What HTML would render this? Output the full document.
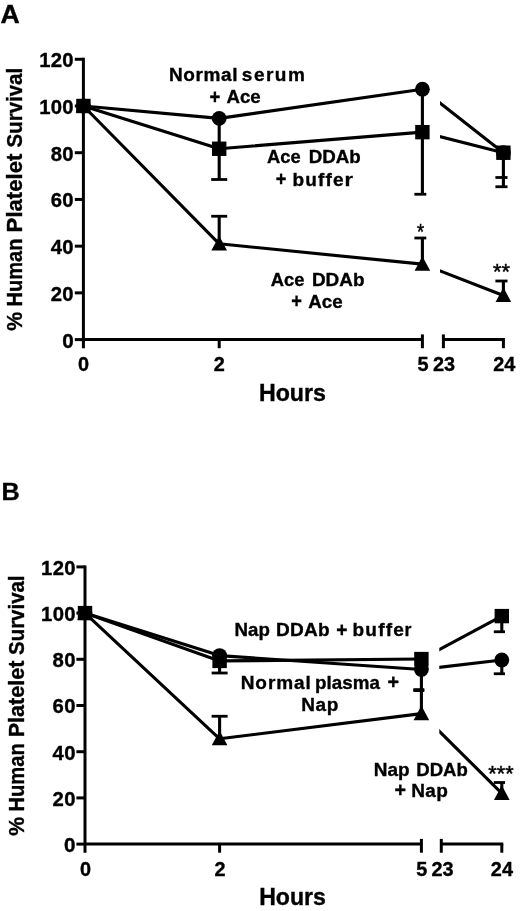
<!DOCTYPE html>
<html><head><meta charset="utf-8"><title>Platelet survival</title>
<style>html,body{margin:0;padding:0;background:#fff}svg{display:block;filter:grayscale(1)}text{fill:#000}</style></head>
<body><svg width="520" height="911" viewBox="0 0 520 911">
<rect width="520" height="911" fill="#fff"/>
<g stroke="#000" stroke-width="3" fill="none">
<path d="M83.4 57.78 V348.20000000000005"/>
<path d="M74.80000000000001 339.60 H83.4"/>
<path d="M74.80000000000001 292.88 H83.4"/>
<path d="M74.80000000000001 246.16 H83.4"/>
<path d="M74.80000000000001 199.44 H83.4"/>
<path d="M74.80000000000001 152.72 H83.4"/>
<path d="M74.80000000000001 106.00 H83.4"/>
<path d="M74.80000000000001 59.28 H83.4"/>
<path d="M83.4 339.6 H422.4"/>
<path d="M219.2 339.6 v8.6"/>
<path d="M422.4 334.40000000000003 v13.8"/>
<path d="M443.4 334.40000000000003 v13.8"/>
<path d="M443.4 339.6 H504.9"/>
<path d="M503.4 339.6 v8.6"/>
</g>
<text transform="translate(62.15 347.50) scale(1.0600 1)" font-size="19.5" stroke="#000" stroke-width="0.35" font-family="Liberation Sans, sans-serif" font-weight="bold">0</text>
<text transform="translate(50.70 300.78) scale(1.0400 1)" font-size="19.5" letter-spacing="0.388" stroke="#000" stroke-width="0.35" font-family="Liberation Sans, sans-serif" font-weight="bold">20</text>
<text transform="translate(50.69 254.06) scale(1.0400 1)" font-size="19.5" letter-spacing="0.396" stroke="#000" stroke-width="0.35" font-family="Liberation Sans, sans-serif" font-weight="bold">40</text>
<text transform="translate(50.70 207.34) scale(1.0400 1)" font-size="19.5" letter-spacing="0.387" stroke="#000" stroke-width="0.35" font-family="Liberation Sans, sans-serif" font-weight="bold">60</text>
<text transform="translate(50.70 160.62) scale(1.0400 1)" font-size="19.5" letter-spacing="0.389" stroke="#000" stroke-width="0.35" font-family="Liberation Sans, sans-serif" font-weight="bold">80</text>
<text transform="translate(39.18 113.90) scale(1.0400 1)" font-size="19.5" letter-spacing="0.293" stroke="#000" stroke-width="0.35" font-family="Liberation Sans, sans-serif" font-weight="bold">100</text>
<text transform="translate(39.18 67.18) scale(1.0400 1)" font-size="19.5" letter-spacing="0.293" stroke="#000" stroke-width="0.35" font-family="Liberation Sans, sans-serif" font-weight="bold">120</text>
<text transform="translate(77.88 370.70) scale(1.0200 1)" font-size="19.5" stroke="#000" stroke-width="0.35" font-family="Liberation Sans, sans-serif" font-weight="bold">0</text>
<text transform="translate(213.73 370.70) scale(1.0200 1)" font-size="19.5" stroke="#000" stroke-width="0.35" font-family="Liberation Sans, sans-serif" font-weight="bold">2</text>
<text transform="translate(417.56 370.70) scale(1.0200 1)" font-size="19.5" stroke="#000" stroke-width="0.35" font-family="Liberation Sans, sans-serif" font-weight="bold">5</text>
<text transform="translate(432.96 370.70) scale(1.0200 1)" font-size="19.5" stroke="#000" stroke-width="0.35" font-family="Liberation Sans, sans-serif" font-weight="bold">23</text>
<text transform="translate(493.26 370.70) scale(1.0200 1)" font-size="19.5" stroke="#000" stroke-width="0.35" font-family="Liberation Sans, sans-serif" font-weight="bold">24</text>
<clipPath id="cA"><rect x="440" y="0" width="200" height="911"/></clipPath>
<path d="M83.4 106.00 L219.2 118.38 L422.4 89.18" stroke="#000" stroke-width="3.1" fill="none" stroke-linejoin="round"/>
<path clip-path="url(#cA)" d="M422.4 89.18 L503.4 152.72" stroke="#000" stroke-width="3.1" fill="none"/>
<path d="M83.4 106.00 L219.2 148.75 L422.4 132.16" stroke="#000" stroke-width="3.1" fill="none" stroke-linejoin="round"/>
<path clip-path="url(#cA)" d="M422.4 132.16 L503.4 152.72" stroke="#000" stroke-width="3.1" fill="none"/>
<path d="M83.4 106.00 L219.2 243.82 L422.4 264.15" stroke="#000" stroke-width="3.1" fill="none" stroke-linejoin="round"/>
<path clip-path="url(#cA)" d="M422.4 264.15 L503.4 295.45" stroke="#000" stroke-width="3.1" fill="none"/>
<path d="M219.2 118 V179.5" stroke="#000" stroke-width="3.1" fill="none"/>
<path d="M211.2 179.5 H227.2" stroke="#000" stroke-width="2.8" fill="none"/>
<path d="M422.4 89 V194.25" stroke="#000" stroke-width="3.1" fill="none"/>
<path d="M414.4 194.25 H426.3" stroke="#000" stroke-width="2.8" fill="none"/>
<path d="M503.4 152 V186.75" stroke="#000" stroke-width="3.1" fill="none"/>
<path d="M495.4 177.5 H507.5" stroke="#000" stroke-width="2.8" fill="none"/>
<path d="M495.4 186.75 H507.5" stroke="#000" stroke-width="2.8" fill="none"/>
<path d="M219.2 216.25 V244" stroke="#000" stroke-width="3.1" fill="none"/>
<path d="M211.2 216.25 H227.2" stroke="#000" stroke-width="2.8" fill="none"/>
<path d="M422.4 238 V262" stroke="#000" stroke-width="3.1" fill="none"/>
<path d="M414.4 238 H426.3" stroke="#000" stroke-width="2.8" fill="none"/>
<path d="M503.4 281 V292" stroke="#000" stroke-width="3.1" fill="none"/>
<path d="M495.4 281 H507.5" stroke="#000" stroke-width="2.8" fill="none"/>
<circle cx="83.4" cy="106.00" r="7.4" fill="#000"/>
<circle cx="219.2" cy="118.38" r="7.4" fill="#000"/>
<circle cx="422.4" cy="89.18" r="7.4" fill="#000"/>
<circle cx="503.4" cy="152.72" r="7.4" fill="#000"/>
<rect x="76.20" y="98.80" width="14.4" height="14.4" fill="#000"/>
<rect x="212.00" y="141.55" width="14.4" height="14.4" fill="#000"/>
<rect x="415.20" y="124.96" width="14.4" height="14.4" fill="#000"/>
<rect x="496.20" y="145.52" width="14.4" height="14.4" fill="#000"/>
<path d="M83.4 98.00 L91.2 112.60 H75.60000000000001 Z" fill="#000"/>
<path d="M219.2 235.82 L227.0 250.42 H211.39999999999998 Z" fill="#000"/>
<path d="M422.4 256.15 L430.2 270.75 H414.59999999999997 Z" fill="#000"/>
<path d="M503.4 287.45 L511.2 302.05 H495.59999999999997 Z" fill="#000"/>
<text transform="translate(0.58 23.10) scale(1.0657 1)" font-size="25" stroke="#000" stroke-width="0.35" font-family="Liberation Sans, sans-serif" font-weight="bold">A</text>
<text transform="translate(168.92 80.50) scale(1.0400 1)" font-size="18.3" letter-spacing="0.606" stroke="#000" stroke-width="0.35" font-family="Liberation Sans, sans-serif" font-weight="bold">Normal</text>
<text transform="translate(241.83 80.50) scale(1.0400 1)" font-size="18.3" letter-spacing="1.421" stroke="#000" stroke-width="0.35" font-family="Liberation Sans, sans-serif" font-weight="bold">serum</text>
<text transform="translate(209.51 103.50) scale(0.9411 1)" font-size="19.764000000000003" stroke="#000" stroke-width="0.35" font-family="Liberation Sans, sans-serif" font-weight="bold">+</text>
<text transform="translate(226.43 103.30) scale(1.0190 1)" font-size="18.3" stroke="#000" stroke-width="0.35" font-family="Liberation Sans, sans-serif" font-weight="bold">Ace</text>
<text transform="translate(267.04 163.25) scale(1.0005 1)" font-size="18.3" stroke="#000" stroke-width="0.35" font-family="Liberation Sans, sans-serif" font-weight="bold">Ace</text>
<text transform="translate(308.74 163.25) scale(1.0233 1)" font-size="18.3" stroke="#000" stroke-width="0.35" font-family="Liberation Sans, sans-serif" font-weight="bold">DDAb</text>
<text transform="translate(275.73 185.70) scale(0.9209 1)" font-size="19.764000000000003" stroke="#000" stroke-width="0.35" font-family="Liberation Sans, sans-serif" font-weight="bold">+</text>
<text transform="translate(292.51 185.50) scale(1.0400 1)" font-size="18.3" letter-spacing="1.111" stroke="#000" stroke-width="0.35" font-family="Liberation Sans, sans-serif" font-weight="bold">buffe</text>
<text transform="translate(344.40 185.50) scale(1.1810 1)" font-size="18.3" stroke="#000" stroke-width="0.35" font-family="Liberation Sans, sans-serif" font-weight="bold">r</text>
<text transform="translate(270.79 285.75) scale(1.0005 1)" font-size="18.3" stroke="#000" stroke-width="0.35" font-family="Liberation Sans, sans-serif" font-weight="bold">Ace</text>
<text transform="translate(311.97 285.75) scale(1.0335 1)" font-size="18.3" stroke="#000" stroke-width="0.35" font-family="Liberation Sans, sans-serif" font-weight="bold">DDAb</text>
<text transform="translate(291.23 308.20) scale(0.9209 1)" font-size="19.764000000000003" stroke="#000" stroke-width="0.35" font-family="Liberation Sans, sans-serif" font-weight="bold">+</text>
<text transform="translate(308.28 308.00) scale(1.0236 1)" font-size="18.3" stroke="#000" stroke-width="0.35" font-family="Liberation Sans, sans-serif" font-weight="bold">Ace</text>
<text transform="translate(416.98 239.10) scale(0.8323 1)" font-size="22" stroke="#000" stroke-width="0.45" font-family="Liberation Sans, sans-serif" font-weight="normal">*</text>
<text transform="translate(493.12 278.90) scale(0.9884 1)" font-size="22" stroke="#000" stroke-width="0.45" font-family="Liberation Sans, sans-serif" font-weight="normal">**</text>
<text transform="translate(258.93 400.50) scale(1.0088 1)" font-size="23" stroke="#000" stroke-width="0.35" font-family="Liberation Sans, sans-serif" font-weight="bold">Hours</text>
<text transform="translate(21.90 330.20) rotate(-90) translate(-0.53 0) scale(0.9978 1)" font-size="21.3" stroke="#000" stroke-width="0.35" font-family="Liberation Sans, sans-serif" font-weight="bold">%</text>
<text transform="translate(21.90 330.20) rotate(-90) translate(23.64 0) scale(0.9433 1)" font-size="21.3" stroke="#000" stroke-width="0.35" font-family="Liberation Sans, sans-serif" font-weight="bold">Human</text>
<text transform="translate(21.90 330.20) rotate(-90) translate(97.80 0) scale(1.0400 1)" font-size="21.3" letter-spacing="0.009" stroke="#000" stroke-width="0.35" font-family="Liberation Sans, sans-serif" font-weight="bold">Platelet</text>
<text transform="translate(21.90 330.20) rotate(-90) translate(182.68 0) scale(0.9625 1)" font-size="21.3" stroke="#000" stroke-width="0.35" font-family="Liberation Sans, sans-serif" font-weight="bold">Survival</text>
<g stroke="#000" stroke-width="3" fill="none">
<path d="M85 565.40 V852.7"/>
<path d="M76.4 844.10 H85"/>
<path d="M76.4 797.90 H85"/>
<path d="M76.4 751.70 H85"/>
<path d="M76.4 705.50 H85"/>
<path d="M76.4 659.30 H85"/>
<path d="M76.4 613.10 H85"/>
<path d="M76.4 566.90 H85"/>
<path d="M85 844.1 H421.4"/>
<path d="M219.6 844.1 v8.6"/>
<path d="M421.4 838.9 v13.8"/>
<path d="M441.3 838.9 v13.8"/>
<path d="M441.3 844.1 H503.3"/>
<path d="M501.8 844.1 v8.6"/>
</g>
<text transform="translate(64.05 852.00) scale(1.0600 1)" font-size="19.5" stroke="#000" stroke-width="0.35" font-family="Liberation Sans, sans-serif" font-weight="bold">0</text>
<text transform="translate(52.60 805.80) scale(1.0400 1)" font-size="19.5" letter-spacing="0.388" stroke="#000" stroke-width="0.35" font-family="Liberation Sans, sans-serif" font-weight="bold">20</text>
<text transform="translate(52.59 759.60) scale(1.0400 1)" font-size="19.5" letter-spacing="0.396" stroke="#000" stroke-width="0.35" font-family="Liberation Sans, sans-serif" font-weight="bold">40</text>
<text transform="translate(52.60 713.40) scale(1.0400 1)" font-size="19.5" letter-spacing="0.387" stroke="#000" stroke-width="0.35" font-family="Liberation Sans, sans-serif" font-weight="bold">60</text>
<text transform="translate(52.60 667.20) scale(1.0400 1)" font-size="19.5" letter-spacing="0.389" stroke="#000" stroke-width="0.35" font-family="Liberation Sans, sans-serif" font-weight="bold">80</text>
<text transform="translate(41.08 621.00) scale(1.0400 1)" font-size="19.5" letter-spacing="0.293" stroke="#000" stroke-width="0.35" font-family="Liberation Sans, sans-serif" font-weight="bold">100</text>
<text transform="translate(41.08 574.80) scale(1.0400 1)" font-size="19.5" letter-spacing="0.293" stroke="#000" stroke-width="0.35" font-family="Liberation Sans, sans-serif" font-weight="bold">120</text>
<text transform="translate(79.88 875.50) scale(1.0200 1)" font-size="19.5" stroke="#000" stroke-width="0.35" font-family="Liberation Sans, sans-serif" font-weight="bold">0</text>
<text transform="translate(214.53 875.50) scale(1.0200 1)" font-size="19.5" stroke="#000" stroke-width="0.35" font-family="Liberation Sans, sans-serif" font-weight="bold">2</text>
<text transform="translate(416.26 875.50) scale(1.0200 1)" font-size="19.5" stroke="#000" stroke-width="0.35" font-family="Liberation Sans, sans-serif" font-weight="bold">5</text>
<text transform="translate(431.46 875.50) scale(1.0200 1)" font-size="19.5" stroke="#000" stroke-width="0.35" font-family="Liberation Sans, sans-serif" font-weight="bold">23</text>
<text transform="translate(490.86 875.50) scale(1.0200 1)" font-size="19.5" stroke="#000" stroke-width="0.35" font-family="Liberation Sans, sans-serif" font-weight="bold">24</text>
<clipPath id="cB"><rect x="439.3" y="0" width="200" height="911"/></clipPath>
<path d="M85 613.10 L219.6 655.60 L421.4 669.46" stroke="#000" stroke-width="3.1" fill="none" stroke-linejoin="round"/>
<path clip-path="url(#cB)" d="M421.4 669.46 L501.8 659.99" stroke="#000" stroke-width="3.1" fill="none"/>
<path d="M85 613.10 L219.6 660.92 L421.4 659.07" stroke="#000" stroke-width="3.1" fill="none" stroke-linejoin="round"/>
<path clip-path="url(#cB)" d="M421.4 659.07 L501.8 616.10" stroke="#000" stroke-width="3.1" fill="none"/>
<path d="M85 613.10 L219.6 738.76 L421.4 713.59" stroke="#000" stroke-width="3.1" fill="none" stroke-linejoin="round"/>
<path clip-path="url(#cB)" d="M421.4 713.59 L501.8 793.28" stroke="#000" stroke-width="3.1" fill="none"/>
<path d="M219.6 660 V673" stroke="#000" stroke-width="3.1" fill="none"/>
<path d="M211.6 673 H227.6" stroke="#000" stroke-width="2.8" fill="none"/>
<path d="M421.4 668 V712" stroke="#000" stroke-width="3.1" fill="none"/>
<path d="M413.4 689.6 H424.3" stroke="#000" stroke-width="2.8" fill="none"/>
<path d="M413.4 690.6 H424.3" stroke="#000" stroke-width="2.8" fill="none"/>
<path d="M501.8 616 V631.75" stroke="#000" stroke-width="3.1" fill="none"/>
<path d="M493.8 631.75 H505" stroke="#000" stroke-width="2.8" fill="none"/>
<path d="M501.8 660 V673.75" stroke="#000" stroke-width="3.1" fill="none"/>
<path d="M493.8 673.75 H505" stroke="#000" stroke-width="2.8" fill="none"/>
<path d="M219.6 716.25 V737" stroke="#000" stroke-width="3.1" fill="none"/>
<path d="M211.6 716.25 H227.6" stroke="#000" stroke-width="2.8" fill="none"/>
<path d="M501.8 782.5 V790" stroke="#000" stroke-width="3.1" fill="none"/>
<path d="M493.8 782.5 H505" stroke="#000" stroke-width="2.8" fill="none"/>
<circle cx="85" cy="613.10" r="7.4" fill="#000"/>
<circle cx="219.6" cy="655.60" r="7.4" fill="#000"/>
<circle cx="421.4" cy="669.46" r="7.4" fill="#000"/>
<circle cx="501.8" cy="659.99" r="7.4" fill="#000"/>
<rect x="77.80" y="605.90" width="14.4" height="14.4" fill="#000"/>
<rect x="212.40" y="653.72" width="14.4" height="14.4" fill="#000"/>
<rect x="414.20" y="651.87" width="14.4" height="14.4" fill="#000"/>
<rect x="494.60" y="608.90" width="14.4" height="14.4" fill="#000"/>
<path d="M85 605.10 L92.8 619.70 H77.2 Z" fill="#000"/>
<path d="M219.6 730.76 L227.4 745.36 H211.79999999999998 Z" fill="#000"/>
<path d="M421.4 705.59 L429.2 720.19 H413.59999999999997 Z" fill="#000"/>
<path d="M501.8 785.28 L509.6 799.88 H494.0 Z" fill="#000"/>
<text transform="translate(1.40 499.50) scale(1.0304 1)" font-size="24.5" stroke="#000" stroke-width="0.35" font-family="Liberation Sans, sans-serif" font-weight="bold">B</text>
<text transform="translate(234.54 636.30) scale(1.0223 1)" font-size="18.3" stroke="#000" stroke-width="0.35" font-family="Liberation Sans, sans-serif" font-weight="bold">Nap</text>
<text transform="translate(276.02 636.30) scale(1.0400 1)" font-size="18.3" letter-spacing="0.284" stroke="#000" stroke-width="0.35" font-family="Liberation Sans, sans-serif" font-weight="bold">DDAb</text>
<text transform="translate(336.18 636.50) scale(0.9715 1)" font-size="19.764000000000003" stroke="#000" stroke-width="0.35" font-family="Liberation Sans, sans-serif" font-weight="bold">+</text>
<text transform="translate(352.51 636.30) scale(1.0400 1)" font-size="18.3" letter-spacing="1.171" stroke="#000" stroke-width="0.35" font-family="Liberation Sans, sans-serif" font-weight="bold">buffe</text>
<text transform="translate(404.60 636.30) scale(0.9695 1)" font-size="18.3" stroke="#000" stroke-width="0.35" font-family="Liberation Sans, sans-serif" font-weight="bold">r</text>
<text transform="translate(240.72 688.70) scale(1.0400 1)" font-size="18.3" letter-spacing="0.875" stroke="#000" stroke-width="0.35" font-family="Liberation Sans, sans-serif" font-weight="bold">Normal</text>
<text transform="translate(315.03 688.70) scale(1.0284 1)" font-size="18.3" stroke="#000" stroke-width="0.35" font-family="Liberation Sans, sans-serif" font-weight="bold">plasma</text>
<text transform="translate(387.41 688.90) scale(0.9968 1)" font-size="19.764000000000003" stroke="#000" stroke-width="0.35" font-family="Liberation Sans, sans-serif" font-weight="bold">+</text>
<text transform="translate(301.22 711.30) scale(1.0400 1)" font-size="18.3" letter-spacing="0.540" stroke="#000" stroke-width="0.35" font-family="Liberation Sans, sans-serif" font-weight="bold">Nap</text>
<text transform="translate(373.72 775.50) scale(1.0361 1)" font-size="18.3" stroke="#000" stroke-width="0.35" font-family="Liberation Sans, sans-serif" font-weight="bold">Nap</text>
<text transform="translate(416.25 775.50) scale(1.0131 1)" font-size="18.3" stroke="#000" stroke-width="0.35" font-family="Liberation Sans, sans-serif" font-weight="bold">DDAb</text>
<text transform="translate(394.41 797.20) scale(0.9968 1)" font-size="19.764000000000003" stroke="#000" stroke-width="0.35" font-family="Liberation Sans, sans-serif" font-weight="bold">+</text>
<text transform="translate(411.22 797.00) scale(1.0400 1)" font-size="18.3" letter-spacing="0.300" stroke="#000" stroke-width="0.35" font-family="Liberation Sans, sans-serif" font-weight="bold">Nap</text>
<text transform="translate(488.37 781.10) scale(0.9833 1)" font-size="22" stroke="#000" stroke-width="0.45" font-family="Liberation Sans, sans-serif" font-weight="normal">***</text>
<text transform="translate(259.19 905.00) scale(1.0048 1)" font-size="23" stroke="#000" stroke-width="0.35" font-family="Liberation Sans, sans-serif" font-weight="bold">Hours</text>
<text transform="translate(24.10 835.20) rotate(-90) translate(-0.53 0) scale(0.9978 1)" font-size="21.3" stroke="#000" stroke-width="0.35" font-family="Liberation Sans, sans-serif" font-weight="bold">%</text>
<text transform="translate(24.10 835.20) rotate(-90) translate(23.64 0) scale(0.9462 1)" font-size="21.3" stroke="#000" stroke-width="0.35" font-family="Liberation Sans, sans-serif" font-weight="bold">Human</text>
<text transform="translate(24.10 835.20) rotate(-90) translate(97.84 0) scale(1.0139 1)" font-size="21.3" stroke="#000" stroke-width="0.35" font-family="Liberation Sans, sans-serif" font-weight="bold">Platelet</text>
<text transform="translate(24.10 835.20) rotate(-90) translate(180.29 0) scale(0.9588 1)" font-size="21.3" stroke="#000" stroke-width="0.35" font-family="Liberation Sans, sans-serif" font-weight="bold">Survival</text>
</svg></body></html>
